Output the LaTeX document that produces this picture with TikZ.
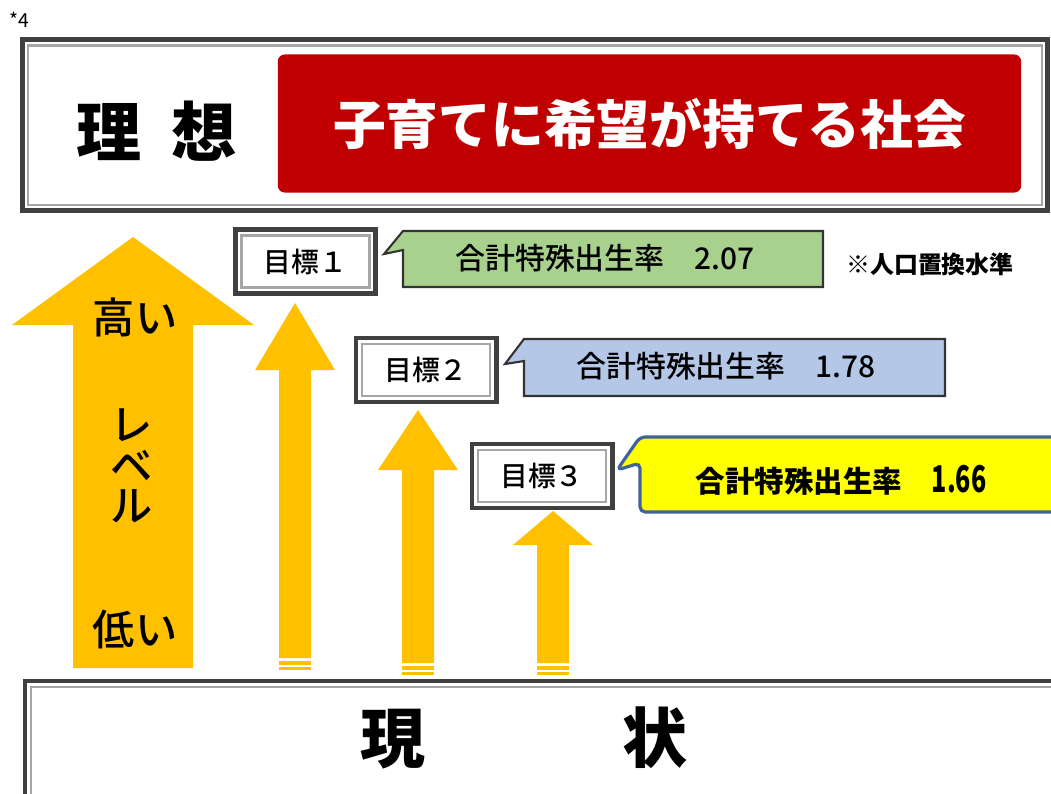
\documentclass[tikz,border=0pt]{standalone}
\usepackage{fontspec}
\newfontfamily\jp{Noto Sans CJK JP}
\newfontfamily\jpmed{Noto Sans CJK JP Medium}
\definecolor{frameline}{HTML}{404040}
\definecolor{innerline}{HTML}{A6A6A6}
\definecolor{idealred}{HTML}{C00000}
\definecolor{arrowgold}{HTML}{FFC000}
\definecolor{rategreen}{HTML}{A9D18E}
\definecolor{rateblue}{HTML}{B4C7E7}
\definecolor{rateyellow}{HTML}{FFFF00}
\definecolor{yellowedge}{HTML}{3F6398}

\begin{document}
\begin{tikzpicture}[x=0.01cm, y=-0.01cm,
    doubleframe/.style={draw=frameline, line width=1.4pt, fill=white,
        path picture={\draw[innerline, line width=0.6pt]
            ([shift={(0.06cm,-0.06cm)}]path picture bounding box.north west) rectangle
            ([shift={(-0.06cm,0.06cm)}]path picture bounding box.south east);}},
    goalbox/.style={doubleframe, minimum width=1.40cm, minimum height=0.64cm, inner sep=0pt,
        font=\jpmed\fontsize{7.9}{7.9}\selectfont},
    ratetext/.style={inner sep=0pt, font=\jpmed\fontsize{8.5}{8.5}\selectfont},
    bigtext/.style={inner sep=0pt, font=\jp\bfseries\fontsize{18.5}{18.5}\selectfont},
    leveltext/.style={inner sep=0pt, font=\jpmed\fontsize{12}{11.5}\selectfont}]
    \useasboundingbox (0,0) rectangle (1051,793);

    % Note mark
    \node[inner sep=0pt, font=\jp\fontsize{5.5}{5.5}\selectfont] (note) at (19,20) {*4};

    % Ideal (top frame) and present (bottom frame)
    \node[doubleframe, minimum width=10.25cm, minimum height=1.71cm] (idealframe) at (535,125) {};
    \node[bigtext] (ideal) at (157,131) {理\hspace{0.3cm}想};
    \node[fill=idealred, rounded corners=2pt, minimum width=7.43cm, minimum height=1.38cm,
        text=white, font=\jp\bfseries\fontsize{15}{15}\selectfont] (vision) at (649.5,123.5)
        {子育てに希望が持てる社会};
    \node[doubleframe, anchor=north west, minimum width=10.6cm, minimum height=1.5cm]
        (presentframe) at (22.5,678.5) {};
    \node[bigtext] (present) at (524,738) {現\hspace{1.97cm}状};

    % Level arrow
    \fill[arrowgold] (73,668) -- (73,325) -- (12,325) -- (133,237) -- (254,325)
        -- (193,325) -- (193,668) -- cycle;
    \node[leveltext] (high) at (135,317) {高い};
    \node[leveltext, align=center] (level) at (132,466) {レ\\ベ\\ル};
    \node[leveltext] (low) at (135,630) {低い};

    % Goal arrows with stripes at the foot
    \foreach \cx/\tipy/\basey/\foot in {295/303/370/658, 418/410/470/663, 553/511/545/663} {
        \fill[arrowgold] (\cx-16,\foot) -- (\cx-16,\basey) -- (\cx-40,\basey) -- (\cx,\tipy)
            -- (\cx+40,\basey) -- (\cx+16,\basey) -- (\cx+16,\foot) -- cycle;
        \fill[arrowgold] (\cx-16,\foot+3) rectangle (\cx+16,\foot+7);
        \fill[arrowgold] (\cx-16,\foot+9) rectangle (\cx+16,\foot+12);
    }

    % Goals
    \node[goalbox] (goal1) at (305.5,261.5) {目標１};
    \node[goalbox] (goal2) at (426,370) {目標２};
    \node[goalbox] (goal3) at (542,476) {目標３};

    % Callouts with fertility rates
    \filldraw[fill=rategreen, draw=black!80, line width=0.6pt]
        (403,231) -- (823,231) -- (823,287) -- (403,287) -- (403,250) -- (384,254) -- cycle;
    \node[ratetext] (rate1) at (605,258) {合計特殊出生率　2.07};
    \node[inner sep=0pt, font=\jp\bfseries\fontsize{6.8}{6.8}\selectfont] (replace) at (930,264)
        {※人口置換水準};

    \filldraw[fill=rateblue, draw=black!80, line width=0.6pt]
        (524,339) -- (945,339) -- (945,396) -- (524,396) -- (524,361) -- (505,364) -- cycle;
    \node[ratetext] (rate2) at (726,366) {合計特殊出生率　1.78};

    \filldraw[fill=rateyellow, draw=yellowedge, line width=0.9pt, rounded corners=1.5pt]
        (640,437) -- (1070,437) -- (1070,512) -- (640,512) -- (640,463) -- (617,470) -- cycle;
    \node[ratetext, font=\jp\bfseries\fontsize{8.4}{8.4}\selectfont] (rate3) at (841,480)
        {合計特殊出生率　{\fontsize{10.5}{10.5}\selectfont\scalebox{0.68}[1]{1.66}}};

\end{tikzpicture}
\end{document}
